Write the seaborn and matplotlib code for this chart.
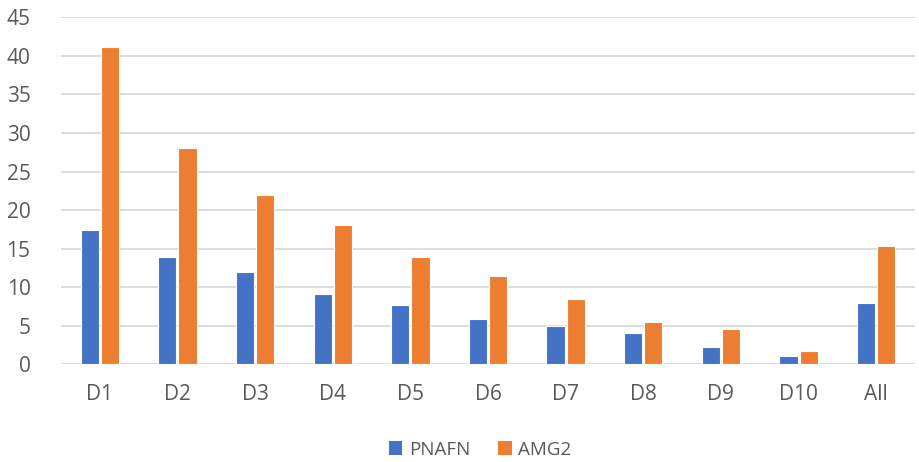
import matplotlib
matplotlib.use("Agg")
import matplotlib.pyplot as plt
import seaborn as sns
import pandas as pd
from matplotlib.patches import Patch

categories = ["D1", "D2", "D3", "D4", "D5", "D6", "D7", "D8", "D9", "D10", "All"]
pnafn = [17.4, 13.9, 12.0, 9.1, 7.7, 5.9, 5.0, 4.1, 2.2, 1.1, 7.9]
amg2 = [41.1, 28.0, 22.0, 18.0, 13.9, 11.4, 8.5, 5.5, 4.6, 1.7, 15.4]
series_names = ["PNAFN", "AMG2"]
colors = ["#4472C4", "#ED7D31"]

df = pd.DataFrame({
    "category": categories * 2,
    "value": pnafn + amg2,
    "series": [series_names[0]] * len(categories) + [series_names[1]] * len(categories),
})

sns.set_theme(style="white")
plt.rcParams["font.family"] = ["Open Sans", "DejaVu Sans"]

fig = plt.figure(figsize=(9.2, 4.62), dpi=100)
ax = fig.add_axes([0.0663, 0.2115, 0.9283, 0.7511])

sns.barplot(data=df, x="category", y="value", hue="series", order=categories,
            hue_order=series_names, palette=colors, saturation=1, width=0.52, gap=0.1,
            edgecolor="white", linewidth=0.8, ax=ax, legend=False, zorder=3)

ax.set_ylim(0, 45)
ax.set_xlim(-0.5, len(categories) - 0.5)
ax.set_yticks(range(0, 46, 5))
ax.yaxis.grid(True, color="#D9D9D9", linewidth=1.3, zorder=0)
ax.set_axisbelow(True)
for s in ax.spines.values():
    s.set_visible(False)
ax.set_xlabel("")
ax.set_ylabel("")
ax.tick_params(axis="both", length=0, labelsize=15, colors="#595959")
ax.tick_params(axis="x", pad=14)
ax.tick_params(axis="y", pad=22)

handles = [Patch(facecolor=c, edgecolor="none") for c in colors]
fig.legend(handles, series_names, loc="center", bbox_to_anchor=(0.522, 0.027),
           ncol=2, frameon=False, fontsize=13.5, handlelength=0.7, handleheight=0.7,
           columnspacing=1.5, handletextpad=0.35, labelcolor="#595959")

fig.savefig("out.png", dpi=100, facecolor="white")
